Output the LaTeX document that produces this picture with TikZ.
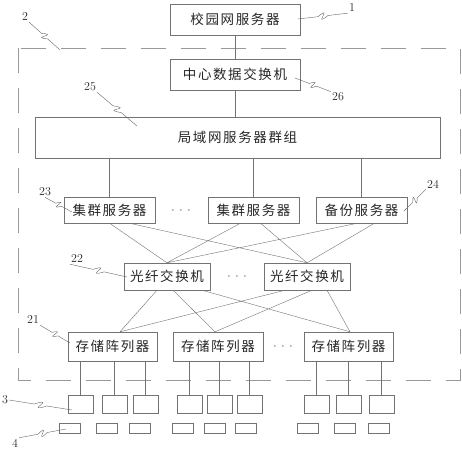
\documentclass[tikz,border=0pt]{standalone}
\usepackage{fontspec}
\newfontfamily\cjk[LetterSpace=12]{Noto Sans CJK SC}
\usetikzlibrary{calc}
\newcommand\leadline[2]{%
  \draw[lead] (#1) -- ($(#1)!0.4!(#2)$)
    .. controls ($(#1)!0.75!(#2)!11pt!90:(#2)$) and ($(#1)!0.25!(#2)!11pt!-90:(#2)$) .. ($(#1)!0.6!(#2)$) -- (#2);}

\begin{document}
\begin{tikzpicture}[x=1pt,y=-1pt,
    box/.style={draw=black!55,thin,inner sep=0pt,text=black!85,font=\cjk\fontsize{13.5}{15}\selectfont},
    dev/.style={draw=black!55,thin,minimum width=25pt,minimum height=18pt,inner sep=0pt},
    tag/.style={draw=black!55,thin,minimum width=21pt,minimum height=10pt,inner sep=0pt},
    more/.style={font=\fontsize{13}{15}\selectfont,text=black!80,inner sep=0pt},
    num/.style={font=\fontsize{12}{14}\selectfont,text=black!85,inner sep=1pt},
    link/.style={draw=black!55,thin},
    lead/.style={draw=black!60,thin},
    frame/.style={draw=black!40,thin,dash pattern=on 25pt off 15pt}]
    \useasboundingbox (0,0) rectangle (462,450);
    \draw[frame] (18,48) rectangle (460,380);
    \node[box,minimum width=130pt,minimum height=31pt] (campus) at (235,19.5) {校园网服务器};
    \node[box,minimum width=130pt,minimum height=31pt] (core) at (235,74.5) {中心数据交换机};
    \node[box,minimum width=405pt,minimum height=41pt] (lan) at (237.5,137.5) {局域网服务器群组};
    \node[box,minimum width=91pt,minimum height=26pt] (clu1) at (109.5,210) {集群服务器};
    \node[box,minimum width=91pt,minimum height=26pt] (clu2) at (253.5,210) {集群服务器};
    \node[box,minimum width=91pt,minimum height=26pt] (bak) at (361.5,210) {备份服务器};
    \node[box,minimum width=86pt,minimum height=27pt] (sw1) at (167,276.5) {光纤交换机};
    \node[box,minimum width=86pt,minimum height=27pt] (sw2) at (307,276.5) {光纤交换机};
    \node[box,minimum width=89pt,minimum height=29pt] (arr1) at (112.5,346.5) {存储阵列器};
    \node[box,minimum width=90pt,minimum height=29pt] (arr2) at (218,346.5) {存储阵列器};
    \node[box,minimum width=89pt,minimum height=29pt] (arr3) at (348.5,346.5) {存储阵列器};
    \node[more] (mclu) at (181,211) {$\cdot\,\cdot\,\cdot$};
    \node[more] (msw) at (237,277) {$\cdot\,\cdot\,\cdot$};
    \node[more] (marr) at (283,347) {$\cdot\,\cdot\,\cdot$};
    \draw[link] (campus.south) -- (core.north);
    \draw[link] (core.south) -- (core.south |- lan.north);
    \foreach \s in {clu1,clu2,bak}
        \draw[link] (\s.north) -- (\s.north |- lan.south);
    \draw[link] (clu1.south) -- (sw1.north) ([xshift=20pt]clu1.south) -- (sw2.north)
        ([xshift=-13pt]clu2.south) -- (sw1.north) ([xshift=7pt]clu2.south) -- (sw2.north)
        ([xshift=-4pt]bak.south) -- (sw1.north) ([xshift=13pt]bak.south) -- (sw2.north);
    \draw[link] ([xshift=-10pt]sw1.south) -- ([xshift=7.5pt]arr1.north)
        ([xshift=6pt]sw1.south) -- ([xshift=-3pt]arr2.north)
        ([xshift=35pt]sw1.south) -- ([xshift=1.5pt]arr3.north)
        ([xshift=-22pt]sw2.south) -- ([xshift=7.5pt]arr1.north)
        ([xshift=5pt]sw2.south) -- ([xshift=-3pt]arr2.north)
        ([xshift=20pt]sw2.south) -- ([xshift=1.5pt]arr3.north);
    \foreach \x/\s [count=\i] in {80.5/arr1,114.5/arr1,145.5/arr1,189.5/arr2,219.5/arr2,249.5/arr2,316.5/arr3,348.5/arr3,381.5/arr3}{
        \node[dev] (dev\i) at (\x,404) {};
        \draw[link] (dev\i.north) -- (dev\i.north |- \s.south);
    }
    \foreach \x [count=\i] in {69.5,106.5,140,183,214.5,245.5,308,344.5,378.5}
        \node[tag] (tag\i) at (\x,428) {};
    \node[num] (n1) at (352,8) {1};
    \node[num] (n2) at (25,17) {2};
    \node[num] (n26) at (338,97) {26};
    \node[num] (n25) at (90,87) {25};
    \node[num] (n23) at (45,192) {23};
    \node[num] (n24) at (433,184) {24};
    \node[num] (n22) at (77,259) {22};
    \node[num] (n21) at (33,320) {21};
    \node[num] (n3) at (5,400) {3};
    \node[num] (n4) at (15,443) {4};
    \leadline{n1.south west}{298,19}
    \leadline{n2.south east}{60,50}
    \leadline{n26.north west}{295,78}
    \leadline{n25.south east}{137,126}
    \leadline{n23.south}{72,212}
    \leadline{n24.south west}{404,211}
    \leadline{n22.south west}{127,277}
    \leadline{n21.south east}{70,343}
    \leadline{n3.east}{72,410}
    \leadline{n4.north east}{66,429}
\end{tikzpicture}
\end{document}
